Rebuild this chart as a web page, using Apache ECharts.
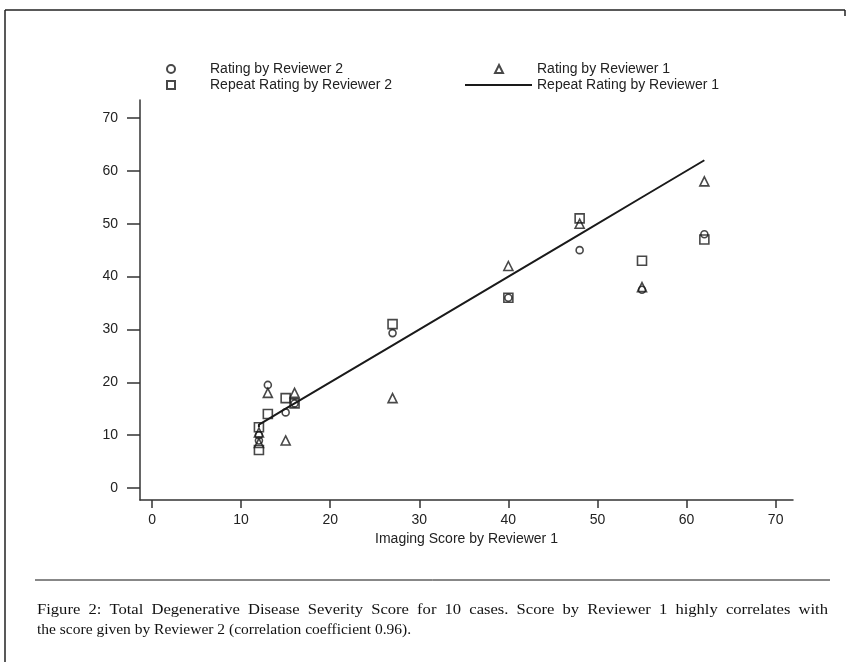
<!DOCTYPE html>
<html>
<head>
<meta charset="utf-8">
<script src="https://cdn.jsdelivr.net/npm/echarts@6/dist/echarts.min.js"></script>
<style>
  html, body { margin: 0; padding: 0; background: #fff; }
  #chart { width: 850px; height: 662px; }
</style>
</head>
<body>
<div id="chart"></div>
<script>
// Imaging score assigned by Reviewer 1 for each of the 10 cases
const imagingScore = [12, 12, 13, 15, 16, 27, 40, 48, 55, 62];
// Severity ratings per case
const ratingReviewer2 = [10, 9, 19.5, 14.3, 16, 29.3, 36, 45, 37.5, 48];
const ratingReviewer1 = [10.5, 8.5, 18, 9, 18, 17, 42, 50, 38, 58];
const repeatReviewer2 = [11.5, 7.2, 14, 17, 16, 31, 36, 51, 43, 47];
const repeatReviewer1 = [11.5, 12, 13, 15, 16, 27, 40, 48, 55, 62];
// Tick values shown on both axes
const tickValues = [0, 10, 20, 30, 40, 50, 60, 70];

const seriesNames = [
  'Rating by Reviewer 2',
  'Repeat Rating by Reviewer 2',
  'Rating by Reviewer 1',
  'Repeat Rating by Reviewer 1'
];

const captionLines = [
  'Figure 2: Total Degenerative Disease Severity Score for 10 cases. Score by Reviewer 1 highly correlates with',
  'the score given by Reviewer 2 (correlation coefficient 0.96).'
];

const pairs = (ys) => imagingScore.map((x, i) => [x, ys[i]]);

const ink = '#1a1a1a';
const sans = '"Liberation Sans", Arial, Helvetica, sans-serif';
const serif = '"Liberation Serif", "Times New Roman", serif';
const hollow = { color: 'rgba(0,0,0,0)', borderColor: ink, borderWidth: 1.6 };

// Caption block: first line justified across the column (slightly widened
// glyphs plus stretched word gaps), last line flush left
const capFont = '15.5px ' + serif;
const capLeft = 37, capRight = 828, capTop = 610, capLeading = 20;
const capStretch = 1.07;
const measureCtx = document.createElement('canvas').getContext('2d');
measureCtx.font = capFont;
function captionGraphics() {
  const out = [];
  captionLines.forEach((line, li) => {
    const y = capTop + li * capLeading;
    const isLast = li === captionLines.length - 1;
    if (isLast) {
      out.push({ type: 'text', x: capLeft, y: y,
        style: { text: line, font: capFont, fill: '#111', textVerticalAlign: 'middle', verticalAlign: 'middle' } });
      return;
    }
    const words = line.split(' ');
    const widths = words.map(w => measureCtx.measureText(w).width * capStretch);
    const total = widths.reduce((a, b) => a + b, 0);
    const gap = (capRight - capLeft - total) / (words.length - 1);
    let x = capLeft;
    words.forEach((w, wi) => {
      out.push({ type: 'text', x: x, y: y, scaleX: capStretch,
        style: { text: w, font: capFont, fill: '#111', textVerticalAlign: 'middle', verticalAlign: 'middle' } });
      x += widths[wi] + gap;
    });
  });
  return out;
}

function legendAt(name, left, top, opts) {
  return Object.assign({
    data: [name],
    left: left,
    top: top,
    orient: 'horizontal',
    itemWidth: 8,
    itemHeight: 8,
    selectedMode: false,
    textStyle: { fontFamily: sans, fontSize: 14, color: '#222', padding: [0, 0, 0, 30] }
  }, opts || {});
}

const chart = echarts.init(document.getElementById('chart'), null, { renderer: 'canvas' });

chart.setOption({
  animation: false,
  backgroundColor: '#fff',
  legend: [
    legendAt(seriesNames[0], 161, 57),
    legendAt(seriesNames[1], 161, 73),
    legendAt(seriesNames[2], 489, 57, {
      textStyle: { fontFamily: sans, fontSize: 14, color: '#222', padding: [0, 0, 0, 29] }
    }),
    legendAt(seriesNames[3], 460, 73, {
      itemWidth: 67,
      itemHeight: 2,
      data: [{ name: seriesNames[3], icon: 'rect', itemStyle: { color: ink } }],
      textStyle: { fontFamily: sans, fontSize: 14, color: '#222', padding: [0, 0, 0, 0] }
    })
  ],
  grid: { left: 140, right: 57, top: 100, bottom: 162, containLabel: false },
  xAxis: {
    type: 'value',
    min: -1.35,
    max: 71.95,
    name: 'Imaging Score by Reviewer 1',
    nameLocation: 'middle',
    nameGap: 29,
    nameTextStyle: { fontFamily: sans, fontSize: 14, color: '#222' },
    axisLine: { show: true, onZero: false, lineStyle: { color: '#333', width: 1.5 } },
    axisTick: { show: true, length: 8, customValues: tickValues, lineStyle: { color: '#333', width: 1.5 } },
    axisLabel: { customValues: tickValues, fontFamily: sans, fontSize: 14, color: '#222', margin: 13 },
    splitLine: { show: false }
  },
  yAxis: {
    type: 'value',
    min: -2.27,
    max: 73.4,
    axisLine: { show: true, onZero: false, lineStyle: { color: '#333', width: 1.5 } },
    axisTick: { show: true, length: 13, customValues: tickValues, lineStyle: { color: '#333', width: 1.5 } },
    axisLabel: { customValues: tickValues, fontFamily: sans, fontSize: 14, color: '#222', margin: 22 },
    splitLine: { show: false }
  },
  series: [
    {
      name: seriesNames[0],
      type: 'scatter',
      symbol: 'circle',
      symbolSize: 7,
      itemStyle: hollow,
      data: pairs(ratingReviewer2),
      z: 3
    },
    {
      name: seriesNames[1],
      type: 'scatter',
      symbol: 'rect',
      symbolSize: 9,
      itemStyle: hollow,
      data: pairs(repeatReviewer2),
      z: 3
    },
    {
      name: seriesNames[2],
      type: 'scatter',
      symbol: 'triangle',
      symbolSize: 9,
      itemStyle: hollow,
      data: pairs(ratingReviewer1),
      z: 3
    },
    {
      name: seriesNames[3],
      type: 'line',
      showSymbol: false,
      symbol: 'none',
      itemStyle: { color: ink },
      lineStyle: { color: ink, width: 2 },
      data: pairs(repeatReviewer1),
      z: 2
    }
  ],
  graphic: [
    // page frame: top and left edges
    { type: 'line', shape: { x1: 5, y1: 10, x2: 845, y2: 10 }, style: { stroke: '#222', lineWidth: 1.5 } },
    { type: 'line', shape: { x1: 5, y1: 10, x2: 5, y2: 662 }, style: { stroke: '#222', lineWidth: 1.5 } },
    { type: 'line', shape: { x1: 845, y1: 10, x2: 845, y2: 16 }, style: { stroke: '#222', lineWidth: 1.5 } },
    // rule above the caption
    { type: 'line', shape: { x1: 35, y1: 580, x2: 830, y2: 580 }, style: { stroke: '#111', lineWidth: 1 } }
  ].concat(captionGraphics())
});
</script>
</body>
</html>
